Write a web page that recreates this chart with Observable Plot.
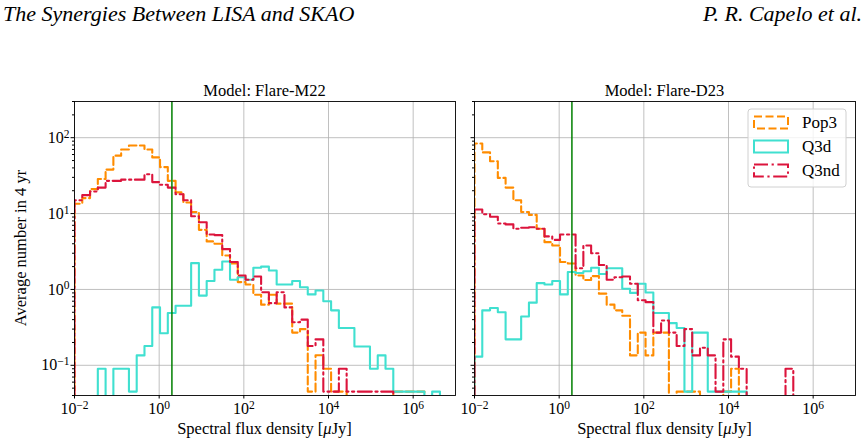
<!DOCTYPE html>
<html>
<head>
<meta charset="utf-8">
<script src="https://cdn.jsdelivr.net/npm/d3@7"></script>
<script src="https://cdn.jsdelivr.net/npm/@observablehq/plot@0.6"></script>
<style>
html,body{margin:0;padding:0;background:#fff;}
#wrap{position:relative;width:867px;height:446px;overflow:hidden;background:#fff;}
#wrap > svg{position:absolute;}
</style>
</head>
<body>
<div id="wrap"></div>
<script>
// ---- data ----
const binExpMin = -2, binExpMax = 7, binCount = 49;   // log-spaced histogram bins (μJy)
const seriesNames = ["Pop3", "Q3d", "Q3nd"];
const seriesColors = ["#ff8c00", "#40e0d0", "#dc143c"];
const seriesDash = ["8,3.5", null, "14,3.6,2.2,3.6"];

const m22Pop3 = [13.5,16,21,28.5,38,58,70,79,79,70, 55,41,27,19,14,10.5,6.1,4.3,4.0,2.8, 2.2,1.25,1.16,0.85,0.63,0.85,0.65,0.65,0.27,0.30, 0.045,0.136,0.09,0.045,0.045,0,0,0,0,0, 0,0.045,0.045,0.045,0.045,0,0,0,0];
const m22Q3d  = [0,0,0,0.09,0,0.09,0.09,0.045,0.135,0.18, 0.58,0.265,0.49,0.61,0.61,2.22,0.83,1.29,1.82,2.34, 1.34,1.45,1.34,1.93,2.0,1.78,1.16,1.16,1.29,1.07, 0.86,0.97,0.70,0.53,0.31,0.31,0.177,0.177,0.09,0.135, 0.09,0.045,0.045,0.045,0.045,0,0.045,0,0];
const m22Q3nd = [15,17.5,19.5,22,27,27,28,28,28,33, 26,24,22,18,15,9.2,7.7,5.3,5.2,3.4, 2.3,1.53,1.34,1.48,0.92,0.66,0.92,0.58,0.37,0.40, 0.18,0.22,0.045,0.045,0.09,0.045,0.045,0.045,0.045,0.045, 0.045,0,0,0,0,0,0,0,0];

const d23Pop3 = [84,64,49,29.5,22,15,10.5,9.6,6.3,4.2, 3.8,2.3,2.2,1.53,1.33,1.5,0.88,0.63,0.53,0.45, 0.135,0.27,0.135,0.27,0.27,0,0.045,0.045,0.045,0, 0,0,0.045,0.09,0,0,0,0,0,0, 0,0,0,0,0,0,0,0,0];
const d23Q3d  = [0.13,0.53,0.57,0.5,0.22,0.22,0.44,0.67,1.21,1.16, 1.29,0.86,1.7,1.65,1.74,1.93,1.6,1.9,1.9,1.02, 0.9,1.19,0.91,0.49,0.49,0.36,0.31,0.045,0.27,0.27, 0.045,0.045,0.045,0.045,0.045,0,0,0,0,0, 0,0,0,0,0,0,0,0,0];
const d23Q3nd = [11.3,9.8,9.1,7.4,7.2,6.3,6.5,6.6,6.3,5.0, 4.5,5.3,5.3,1.9,3.8,3.0,2.1,1.34,1.45,1.48, 1.19,0.72,0.68,0.27,0.39,0.27,0.18,0.30,0.135,0.17, 0.135,0.045,0.22,0.13,0.09,0,0,0,0,0, 0.09,0,0,0,0,0,0,0,0];

const sensitivityLimit = 2;            // μJy, vertical green line
const xTicks = [1e-2, 1, 1e2, 1e4, 1e6];
const yTicks = [0.1, 1, 10, 100];
const xDomain = [1e-2, 1e7];
const yDomain = [0.04, 300];
const panelTitles = ["Model: Flare-M22", "Model: Flare-D23"];
const xLabel = "Spectral flux density";
const yLabel = "Average number in 4 yr";
const headerLeft = "The Synergies Between LISA and SKAO";
const headerRight = "P. R. Capelo et al.";

// ---- helpers ----
const NS = "http://www.w3.org/2000/svg";
const FONT = "'Liberation Serif', 'DejaVu Serif', serif";
const edges = d3.range(binCount + 1).map(i => Math.pow(10, binExpMin + i * (binExpMax - binExpMin) / binCount));
const yMinor = [];
for (let e = -2; e <= 2; e++) for (let k = 2; k <= 9; k++) {
  const v = k * Math.pow(10, e);
  if (v >= yDomain[0] && v <= yDomain[1]) yMinor.push(v);
}
const FLOOR = 1e-3;
function stepPoints(vals) {
  const pts = [{x: edges[0], y: FLOOR}];
  vals.forEach((v, i) => {
    const y = v > 0 ? v : FLOOR;
    pts.push({x: edges[i], y}, {x: edges[i + 1], y});
  });
  pts.push({x: edges[binCount], y: FLOOR});
  return pts;
}
const powFmt = d => `10^${Math.round(Math.log10(d))}`;
const blank = () => "";

function makePanel(seriesVals, {mLeft, mRight, width, showYLabels}) {
  const marks = [
    Plot.gridX(xTicks, {stroke: "#b0b0b0", strokeOpacity: 1, strokeWidth: 0.8}),
    Plot.gridY(yTicks, {stroke: "#b0b0b0", strokeOpacity: 1, strokeWidth: 0.8})
  ];
  seriesVals.forEach((vals, s) => {
    marks.push(Plot.line(stepPoints(vals), {
      x: "x", y: "y", stroke: seriesColors[s], strokeWidth: 2.1,
      strokeDasharray: seriesDash[s] || undefined, clip: true
    }));
  });
  marks.push(
    Plot.ruleX([sensitivityLimit], {stroke: "green", strokeWidth: 1.5}),
    Plot.axisY({ticks: yMinor, tickSize: 2, tickFormat: blank, label: null}),
    Plot.axisY({ticks: yTicks, tickSize: 3.5, tickPadding: 1.5, tickFormat: showYLabels ? powFmt : blank, label: null, fontSize: 16}),
    Plot.axisX({ticks: xTicks, tickSize: 3.5, tickPadding: 4, tickFormat: powFmt, label: null, fontSize: 16}),
    Plot.frame({stroke: "black", strokeWidth: 0.9})
  );
  const svg = Plot.plot({
    width, height: 366,
    marginTop: 21, marginBottom: 51, marginLeft: mLeft, marginRight: mRight,
    x: {type: "log", domain: xDomain, label: null},
    y: {type: "log", domain: yDomain, label: null},
    style: {fontFamily: FONT, fontSize: "16px", background: "transparent", color: "black"},
    marks
  });
  // superscript exponents
  svg.querySelectorAll("text").forEach(t => {
    const m = /^10\^(-?\d+)$/.exec(t.textContent.trim());
    if (!m) return;
    while (t.firstChild) t.removeChild(t.firstChild);
    const a = document.createElementNS(NS, "tspan"); a.textContent = "10"; t.appendChild(a);
    const b = document.createElementNS(NS, "tspan");
    b.setAttribute("dy", "-0.45em"); b.setAttribute("font-size", "0.72em");
    b.textContent = m[1].replace("-", "\u2212"); t.appendChild(b);
  });
  svg.querySelectorAll("text").forEach(t => t.setAttribute("fill", "black"));
  return svg;
}

const wrap = document.getElementById("wrap");
const left = makePanel([m22Pop3, m22Q3d, m22Q3nd], {mLeft: 74, mRight: 5, width: 460, showYLabels: true});
left.style.left = "0px"; left.style.top = "80px";
wrap.appendChild(left);
const right = makePanel([d23Pop3, d23Q3d, d23Q3nd], {mLeft: 14, mRight: 12, width: 407, showYLabels: false});
right.style.left = "460px"; right.style.top = "80px";
wrap.appendChild(right);

// ---- text overlay & legend ----
const ov = document.createElementNS(NS, "svg");
ov.setAttribute("width", 867); ov.setAttribute("height", 446);
ov.style.left = "0px"; ov.style.top = "0px";
ov.setAttribute("font-family", FONT);
function txt(str, x, y, opt = {}) {
  const t = document.createElementNS(NS, "text");
  t.setAttribute("x", x); t.setAttribute("y", y);
  t.setAttribute("font-size", opt.size || 16.5);
  t.setAttribute("text-anchor", opt.anchor || "start");
  if (opt.italic) t.setAttribute("font-style", "italic");
  if (opt.transform) t.setAttribute("transform", opt.transform);
  t.setAttribute("fill", "black");
  t.textContent = str;
  ov.appendChild(t);
  return t;
}
txt(headerLeft, 3, 21, {size: 22, italic: true});
txt(headerRight, 862, 21, {size: 22, italic: true, anchor: "end"});
const panelCenters = [264.5, 664.5];
panelCenters.forEach((cx, i) => {
  txt(panelTitles[i], cx, 96, {size: 16.5, anchor: "middle"});
  const t = txt(xLabel + " [", cx, 434, {size: 16.5, anchor: "middle"});
  const mu = document.createElementNS(NS, "tspan"); mu.setAttribute("font-style", "italic"); mu.textContent = "\u03BC"; t.appendChild(mu);
  const rest = document.createElementNS(NS, "tspan"); rest.textContent = "Jy]"; t.appendChild(rest);
});
txt(yLabel, 0, 0, {size: 16.5, anchor: "middle", transform: "translate(26,248) rotate(-90)"});

// legend
const lg = document.createElementNS(NS, "g");
const box = document.createElementNS(NS, "rect");
box.setAttribute("x", 748); box.setAttribute("y", 109); box.setAttribute("width", 98); box.setAttribute("height", 78);
box.setAttribute("rx", 3); box.setAttribute("fill", "white"); box.setAttribute("fill-opacity", 0.8);
box.setAttribute("stroke", "#d0d0d0"); box.setAttribute("stroke-width", 1);
lg.appendChild(box);
ov.appendChild(lg);
seriesNames.forEach((name, s) => {
  const y0 = 116.5 + s * 24;
  const r = document.createElementNS(NS, "rect");
  r.setAttribute("x", 754); r.setAttribute("y", y0); r.setAttribute("width", 34); r.setAttribute("height", 12);
  r.setAttribute("fill", "none"); r.setAttribute("stroke", seriesColors[s]); r.setAttribute("stroke-width", 2);
  if (seriesDash[s]) r.setAttribute("stroke-dasharray", seriesDash[s]);
  lg.appendChild(r);
  txt(name, 802, y0 + 11.5, {size: 17});
});
wrap.appendChild(ov);
</script>
</body>
</html>
